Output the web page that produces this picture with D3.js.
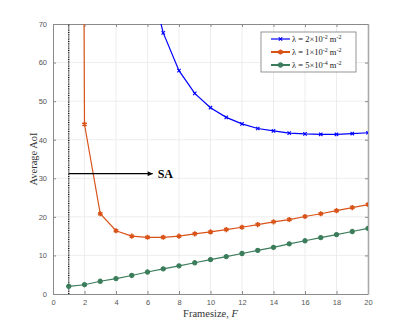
<!DOCTYPE html>
<html><head><meta charset="utf-8">
<script src="https://cdn.jsdelivr.net/npm/d3@7"></script>
<style>
body{margin:0;background:#fff;}
svg{display:block;}
</style></head>
<body>
<svg id="chart" width="407" height="331"></svg>
<script>
const framesize = d3.range(1, 21);
const blueF = [6,7,8,9,10,11,12,13,14,15,16,17,18,19,20];
const blueAoI = [84,67.7,57.9,52.0,48.3,45.8,44.1,42.9,42.3,41.7,41.5,41.4,41.4,41.6,41.8];
const orangeAoI = [1000,44.0,20.8,16.4,15.0,14.7,14.7,15.0,15.6,16.1,16.7,17.3,18.0,18.7,19.3,20.1,20.8,21.6,22.4,23.2];
const greenAoI = [2.0,2.4,3.3,4.0,4.8,5.7,6.5,7.3,8.1,8.9,9.7,10.5,11.3,12.1,13.0,13.8,14.6,15.4,16.2,17.0];
const xTicks = d3.range(0, 21, 2);
const yTicks = d3.range(0, 71, 10);
const legendLabels = [
  {base:"2", exp:"-2", color:"#0000ff", sym:"times"},
  {base:"1", exp:"-2", color:"#d95319", sym:"asterisk"},
  {base:"5", exp:"-4", color:"#3b7d5b", sym:"circle"}
];
const saArrow = {x0:1, x1:6.33, y:31.2};

const svg = d3.select("#chart");
const L=53, R=368, T=24, B=294;
const x = d3.scaleLinear().domain([0,20]).range([L,R]);
const y = d3.scaleLinear().domain([0,70]).range([B,T]);

// grid
const g = svg.append("g");
g.selectAll(".gx").data(xTicks.slice(1,-1)).join("line")
  .attr("x1",d=>x(d)).attr("x2",d=>x(d)).attr("y1",T).attr("y2",B)
  .attr("stroke","#e8e8e8").attr("stroke-width",0.8);
g.selectAll(".gy").data(yTicks.slice(1,-1)).join("line")
  .attr("x1",L).attr("x2",R).attr("y1",d=>y(d)).attr("y2",d=>y(d))
  .attr("stroke","#e8e8e8").attr("stroke-width",0.8);

// axes
const axColor="#8a8a8a";
const xAxis = svg.append("g").attr("transform",`translate(0,${B})`)
  .call(d3.axisBottom(x).tickValues(xTicks).tickSizeInner(-3).tickSizeOuter(0).tickPadding(6));
const yAxis = svg.append("g").attr("transform",`translate(${L},0)`)
  .call(d3.axisLeft(y).tickValues(yTicks).tickSizeInner(-3).tickSizeOuter(0).tickPadding(6));
const xTop = svg.append("g").attr("transform",`translate(0,${T})`)
  .call(d3.axisTop(x).tickValues(xTicks).tickSizeInner(-3).tickSizeOuter(0).tickFormat(""));
const yRight = svg.append("g").attr("transform",`translate(${R},0)`)
  .call(d3.axisRight(y).tickValues(yTicks).tickSizeInner(-3).tickSizeOuter(0).tickFormat(""));
[xAxis,yAxis,xTop,yRight].forEach(a=>{
  a.select(".domain").attr("stroke",axColor).attr("stroke-width",1);
  a.selectAll(".tick line").attr("stroke",axColor);
  a.selectAll("text").attr("fill","#555").attr("font-family","Liberation Sans, Arial, sans-serif").attr("font-size",7.5);
});
yRight.select(".domain").attr("stroke","#aaa").attr("stroke-width",1.6);

// clip
svg.append("clipPath").attr("id","clip").append("rect")
  .attr("x",L).attr("y",T).attr("width",R-L).attr("height",B-T);
const plot = svg.append("g").attr("clip-path","url(#clip)");

// dotted vertical line at F=1
plot.append("line").attr("x1",x(1)).attr("x2",x(1)).attr("y1",y(0)).attr("y2",y(70))
  .attr("stroke","#000").attr("stroke-width",1.3).attr("stroke-dasharray","1,0.8");

const line = d3.line().x(d=>x(d[0])).y(d=>y(d[1]));
function sym(type,size){
  const t = type==="times"?(d3.symbolTimes||d3.symbolCross):type==="asterisk"?(d3.symbolAsterisk||d3.symbolCross):d3.symbolCircle;
  return d3.symbol().type(t).size(size)();
}
function series(xs, ys, color, type){
  const data = xs.map((f,i)=>[f,ys[i]]);
  plot.append("path").datum(data).attr("d",line).attr("fill","none")
    .attr("stroke",color).attr("stroke-width",1.2);
  const pts = data.filter(d=>d[1]<=70);
  plot.selectAll(null).data(pts).join("path")
    .attr("transform",d=>`translate(${x(d[0])},${y(d[1])})`)
    .attr("d",sym(type, type==="circle"?14:type==="asterisk"?18:9))
    .attr("fill",type==="circle"?color:"none")
    .attr("stroke",color).attr("stroke-width",type==="asterisk"?1.6:1.1);
}
series(blueF, blueAoI, legendLabels[0].color, "times");
series(framesize, orangeAoI, legendLabels[1].color, "asterisk");
series(framesize, greenAoI, legendLabels[2].color, "circle");

// SA arrow
svg.append("defs").append("marker").attr("id","arr").attr("viewBox","0 0 10 10")
  .attr("refX",10).attr("refY",5).attr("markerWidth",7).attr("markerHeight",5)
  .attr("markerUnits","userSpaceOnUse").attr("orient","auto")
  .append("path").attr("d","M0,0 L10,5 L0,10 z").attr("fill","#000");
svg.append("line").attr("x1",x(saArrow.x0)).attr("x2",x(saArrow.x1))
  .attr("y1",y(saArrow.y)).attr("y2",y(saArrow.y))
  .attr("stroke","#000").attr("stroke-width",1.2).attr("marker-end","url(#arr)");
svg.append("text").attr("x",x(saArrow.x1)+5).attr("y",y(saArrow.y)+4.5)
  .attr("font-family","Liberation Serif, Times New Roman, serif").attr("font-weight","bold")
  .attr("font-size",12).text("SA");

// legend
const lg = svg.append("g");
lg.append("rect").attr("x",261).attr("y",32).attr("width",95).attr("height",40)
  .attr("fill","#fff").attr("stroke","#7a7a7a").attr("stroke-width",0.8);
legendLabels.forEach((d,i)=>{
  const yy = 39 + i*13;
  lg.append("line").attr("x1",271).attr("x2",290).attr("y1",yy).attr("y2",yy)
    .attr("stroke",d.color).attr("stroke-width",i===0?1.2:2);
  lg.append("path").attr("transform",`translate(280.5,${yy})`)
    .attr("d",sym(d.sym, d.sym==="circle"?14:d.sym==="asterisk"?18:9))
    .attr("fill",d.sym==="circle"?d.color:"none").attr("stroke",d.color)
    .attr("stroke-width",d.sym==="asterisk"?1.6:1.1);
  const t = lg.append("text").attr("x",292).attr("y",yy+3)
    .attr("font-family","Liberation Serif, Times New Roman, serif").attr("font-size",8.5).attr("fill","#222");
  t.append("tspan").text(`λ = ${d.base}×10`);
  t.append("tspan").attr("dy",-3.5).attr("font-size",6).text(d.exp);
  t.append("tspan").attr("dy",3.5).attr("font-size",8.5).text(" m");
  t.append("tspan").attr("dy",-3.5).attr("font-size",6).text("-2");
});

// axis labels
svg.append("text").attr("transform",`translate(37,${(T+B)/2}) rotate(-90)`)
  .attr("text-anchor","middle").attr("font-family","Liberation Serif, Times New Roman, serif")
  .attr("font-size",10.5).attr("fill","#333").text("Average AoI");
const xl = svg.append("text").attr("x",(L+R)/2).attr("y",317).attr("text-anchor","middle")
  .attr("font-family","Liberation Serif, Times New Roman, serif").attr("font-size",10.5).attr("fill","#333");
xl.append("tspan").text("Framesize, ");
xl.append("tspan").attr("font-style","italic").text("F");
</script>
</body></html>
